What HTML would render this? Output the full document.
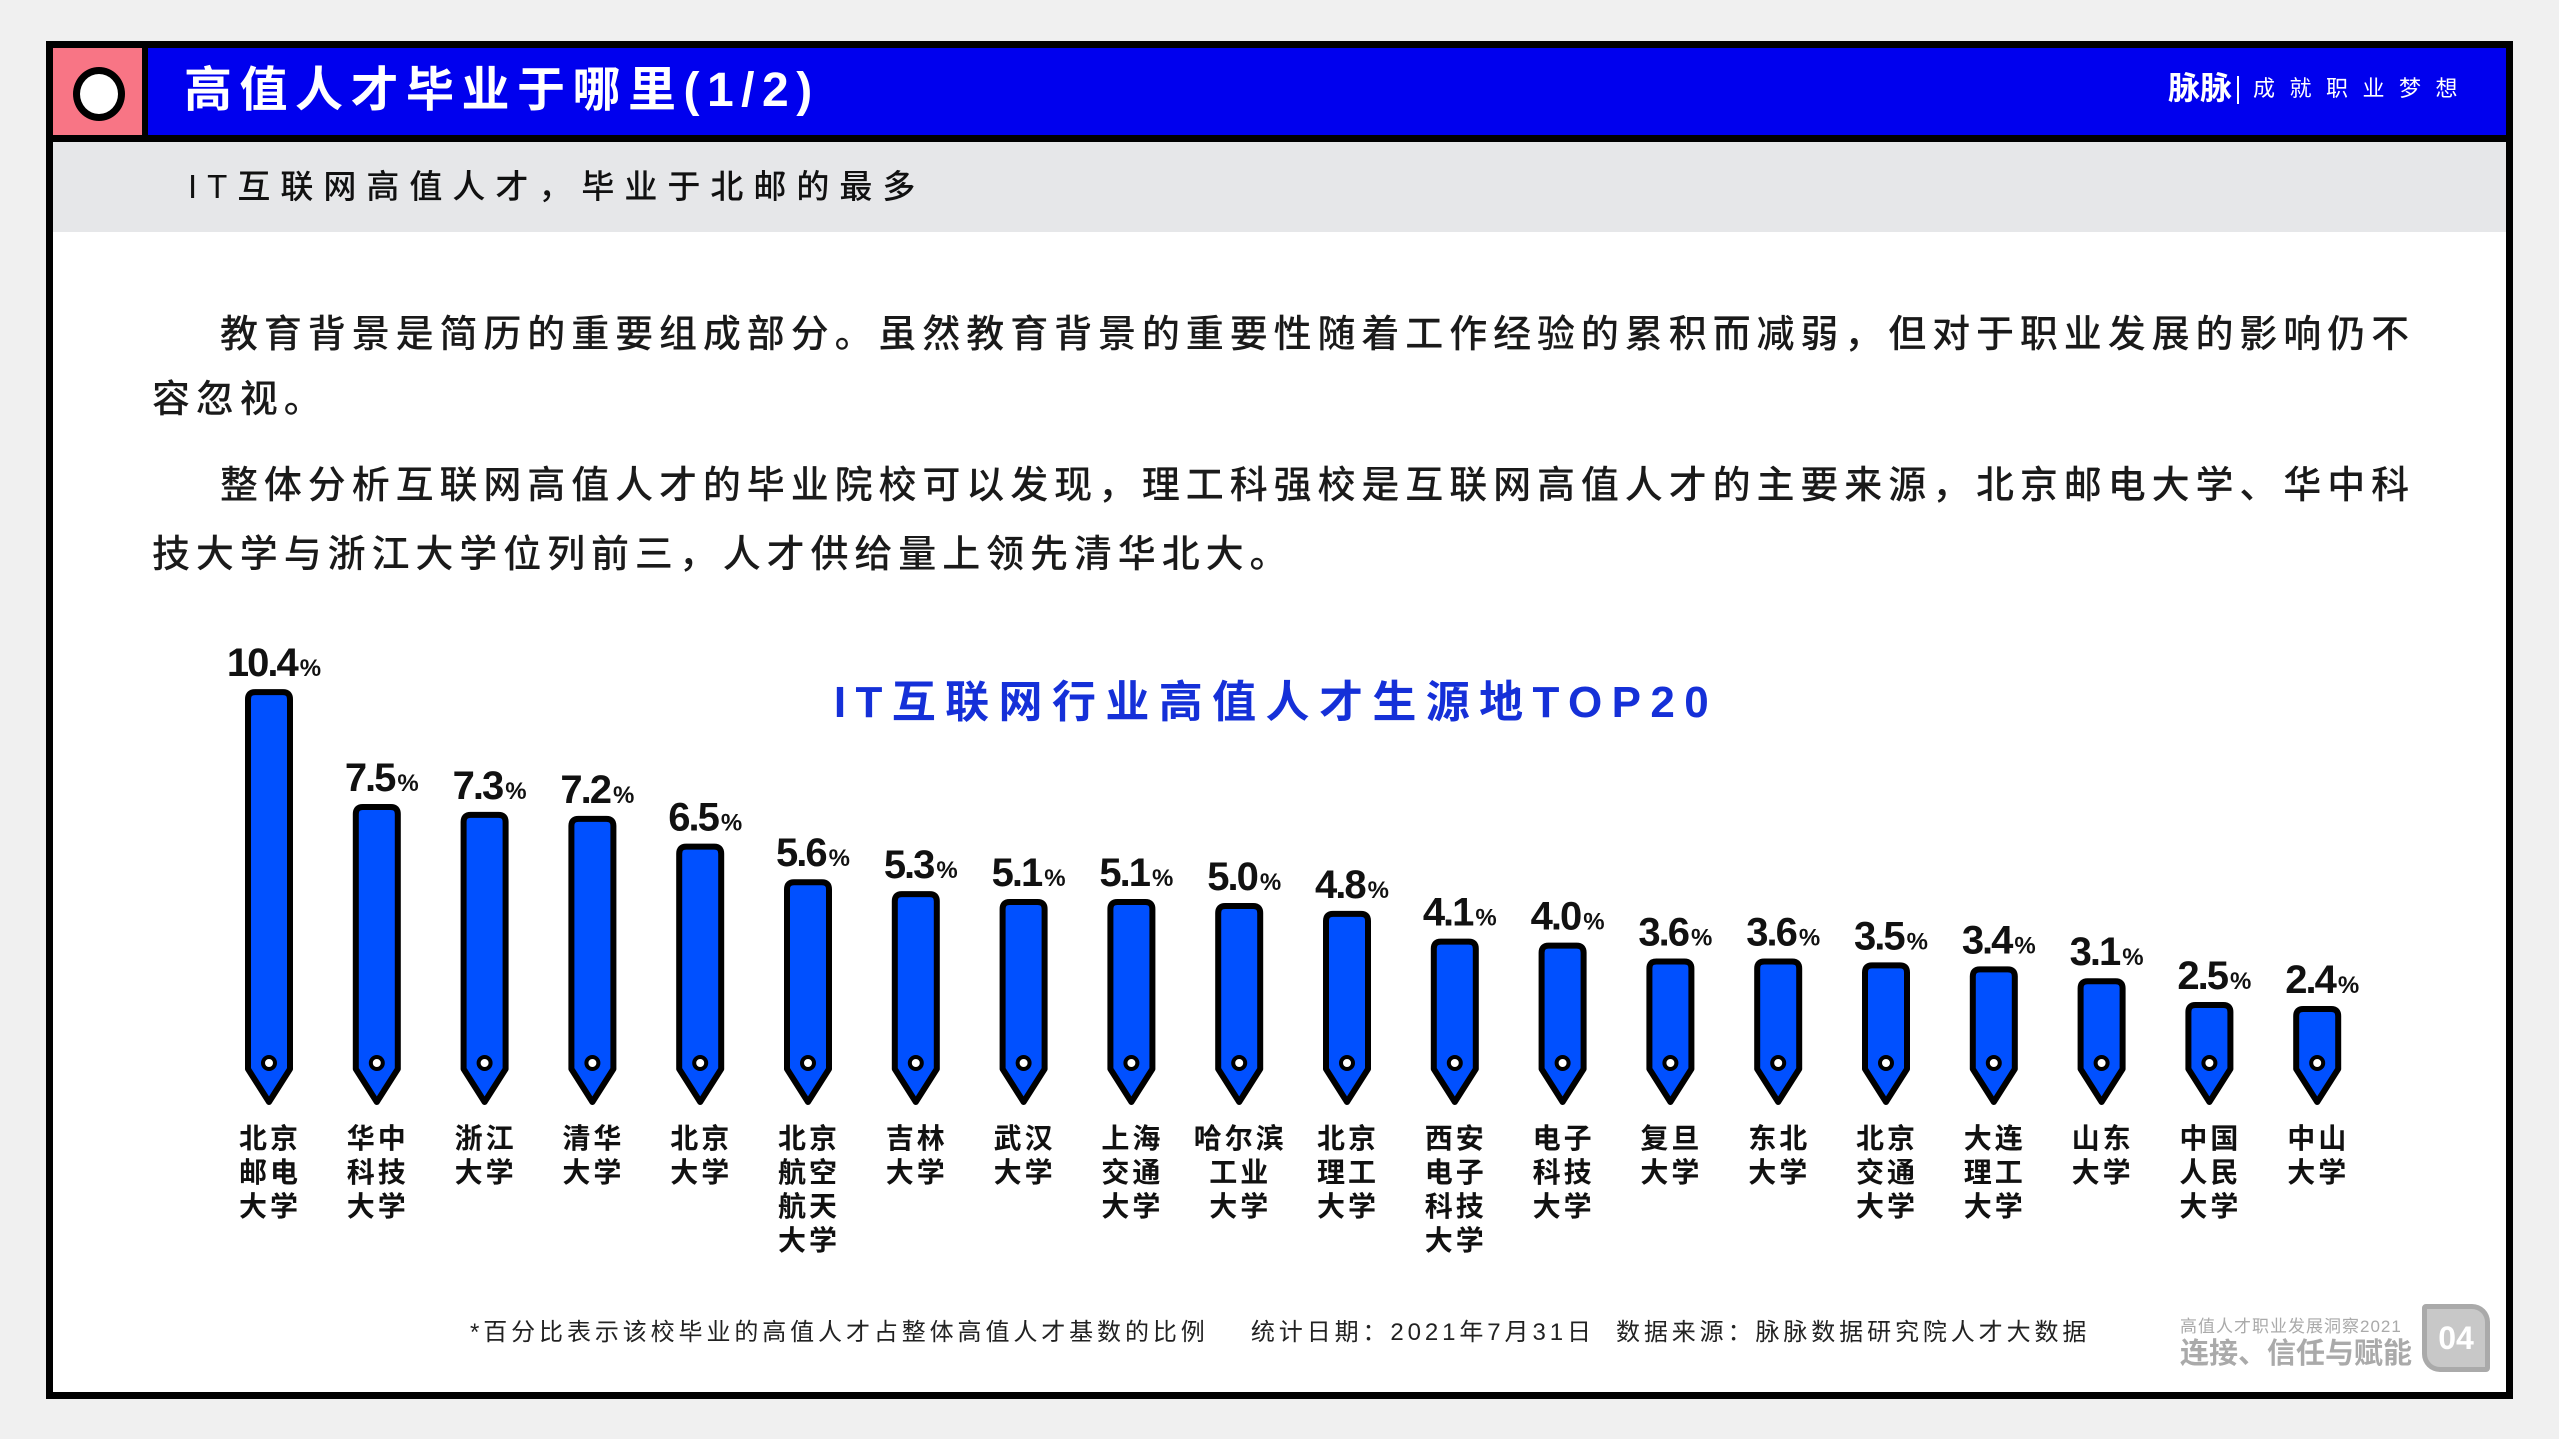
<!DOCTYPE html>
<html><head><meta charset="utf-8">
<style>
html,body{margin:0;padding:0}
body{width:2559px;height:1439px;background:#f0f0f0;position:relative;overflow:hidden;font-family:"Liberation Sans","Noto Sans CJK SC",sans-serif}
.abs{position:absolute;white-space:nowrap}
.para{font-size:38px;letter-spacing:5.9px;color:#1a1a1a;font-weight:500;line-height:1}
</style></head>
<body>
<div class="abs" style="left:46px;top:41px;width:2453px;height:1344px;background:#fff;border:7px solid #000"></div>
<div class="abs" style="left:53px;top:48px;width:2453px;height:87px;background:#0000ee;border-bottom:7px solid #000"></div>
<div class="abs" style="left:53px;top:48px;width:89px;height:87px;background:#f87585;border-right:6px solid #000"></div>
<div class="abs" style="left:73px;top:67px;width:38px;height:40px;border-radius:50%;background:#fff;border:7px solid #000"></div>
<div class="abs" style="left:184px;top:67px;font-size:48px;font-weight:bold;color:#fff;letter-spacing:7.5px;line-height:1">高值人才毕业于哪里(1/2)</div>
<div class="abs" style="left:2168px;top:72px;font-size:32px;color:#fff;font-weight:bold;line-height:1">脉脉</div>
<div class="abs" style="left:2237px;top:76px;width:2px;height:28px;background:#fff"></div>
<div class="abs" style="left:2253px;top:78px;font-size:22px;color:#fff;letter-spacing:14.5px;line-height:1">成就职业梦想</div>
<div class="abs" style="left:53px;top:142px;width:2453px;height:90px;background:#e6e7e9"></div>
<div class="abs" style="left:188px;top:170px;font-size:33px;letter-spacing:10px;color:#111;line-height:1;font-weight:500">IT互联网高值人才，毕业于北邮的最多</div>

<div class="abs para" style="left:220px;top:316px">教育背景是简历的重要组成部分。虽然教育背景的重要性随着工作经验的累积而减弱，但对于职业发展的影响仍不</div>
<div class="abs para" style="left:152px;top:381px">容忽视。</div>
<div class="abs para" style="left:220px;top:467px">整体分析互联网高值人才的毕业院校可以发现，理工科强校是互联网高值人才的主要来源，北京邮电大学、华中科</div>
<div class="abs para" style="left:152px;top:536px">技大学与浙江大学位列前三，人才供给量上领先清华北大。</div>

<svg class="abs" style="left:0;top:0" width="2559" height="1439">
<text x="1276" y="717" text-anchor="middle" font-size="44" font-weight="bold" fill="#1530d8" letter-spacing="9.4" font-family="Liberation Sans, Noto Sans CJK SC, sans-serif">IT互联网行业高值人才生源地TOP20</text>
<g id="bars"></g>
</svg>

<div class="abs" style="left:470px;top:1321px;font-size:24px;letter-spacing:3.9px;color:#222;line-height:1">*百分比表示该校毕业的高值人才占整体高值人才基数的比例&nbsp;&nbsp;&nbsp;&nbsp;统计日期：2021年7月31日&nbsp;&nbsp;数据来源：脉脉数据研究院人才大数据</div>
<div class="abs" style="left:2180px;top:1318px;font-size:17px;color:#aaa;line-height:1;letter-spacing:1px">高值人才职业发展洞察2021</div>
<div class="abs" style="left:2180px;top:1340px;font-size:29px;font-weight:bold;color:#aaa;line-height:1">连接、信任与赋能</div>
<div class="abs" style="left:2422px;top:1304px;width:58px;height:58px;border:5px solid #aaa;border-radius:4px 18px 4px 18px;background:#c8c8c8;color:#fff;font-size:32px;font-weight:bold;text-align:center;line-height:58px">04</div>

<script>
const schools = [["北京","邮电","大学"],["华中","科技","大学"],["浙江","大学"],["清华","大学"],["北京","大学"],["北京","航空","航天","大学"],["吉林","大学"],["武汉","大学"],["上海","交通","大学"],["哈尔滨","工业","大学"],["北京","理工","大学"],["西安","电子","科技","大学"],["电子","科技","大学"],["复旦","大学"],["东北","大学"],["北京","交通","大学"],["大连","理工","大学"],["山东","大学"],["中国","人民","大学"],["中山","大学"]];
const values = [10.4,7.5,7.3,7.2,6.5,5.6,5.3,5.1,5.1,5.0,4.8,4.1,4.0,3.6,3.6,3.5,3.4,3.1,2.5,2.4];
const valueLabels = ["10.4","7.5","7.3","7.2","6.5","5.6","5.3","5.1","5.1","5.0","4.8","4.1","4.0","3.6","3.6","3.5","3.4","3.1","2.5","2.4"];

const NS = "http://www.w3.org/2000/svg";
const g = document.getElementById("bars");
const x0 = 269, step = 107.8;
function xScale(i){ return x0 + i*step; }
function yScale(v){ return 1104 - v*39.6; }
const shoulder = 1069, tip = 1102, hw = 21, r = 7;
values.forEach((v,i)=>{
  const c = xScale(i), t = yScale(v);
  const p = document.createElementNS(NS,"path");
  p.setAttribute("d",`M${c-hw},${shoulder} L${c-hw},${t+r} Q${c-hw},${t} ${c-hw+r},${t} L${c+hw-r},${t} Q${c+hw},${t} ${c+hw},${t+r} L${c+hw},${shoulder} L${c},${tip} Z`);
  p.setAttribute("fill","#0050ff");
  p.setAttribute("stroke","#000");
  p.setAttribute("stroke-width","6");
  p.setAttribute("stroke-linejoin","round");
  
  
  g.appendChild(p);
  const h = document.createElementNS(NS,"circle");
  h.setAttribute("cx",c); h.setAttribute("cy",1063); h.setAttribute("r",6);
  h.setAttribute("fill","#fff"); h.setAttribute("stroke","#000"); h.setAttribute("stroke-width","4");
  
  
  g.appendChild(h);
  const lt = document.createElementNS(NS,"text");
  lt.setAttribute("x",c+4); lt.setAttribute("y",t-16);
  lt.setAttribute("text-anchor","middle");
  lt.setAttribute("font-family","Liberation Sans Narrow, Liberation Sans, sans-serif");
  lt.setAttribute("font-weight","bold");
  lt.setAttribute("fill","#111");
  lt.setAttribute("letter-spacing","-2");
  lt.innerHTML = `<tspan font-size="40">${valueLabels[i]}</tspan><tspan font-size="24" dx="3">%</tspan>`;
  
  
  g.appendChild(lt);
  const nt = document.createElementNS(NS,"text");
  nt.setAttribute("text-anchor","middle");
  nt.setAttribute("font-size","28");
  nt.setAttribute("font-weight","bold");
  nt.setAttribute("fill","#111");
  nt.setAttribute("letter-spacing","3");
  nt.setAttribute("font-family","Liberation Sans, Noto Sans CJK SC, sans-serif");
  schools[i].forEach((line,k)=>{
    const ts = document.createElementNS(NS,"tspan");
    ts.setAttribute("x",c+1); ts.setAttribute("y",1148+k*34);
    ts.textContent = line;
    nt.appendChild(ts);
  });
  
  
  g.appendChild(nt);
});
</script>
</body></html>
